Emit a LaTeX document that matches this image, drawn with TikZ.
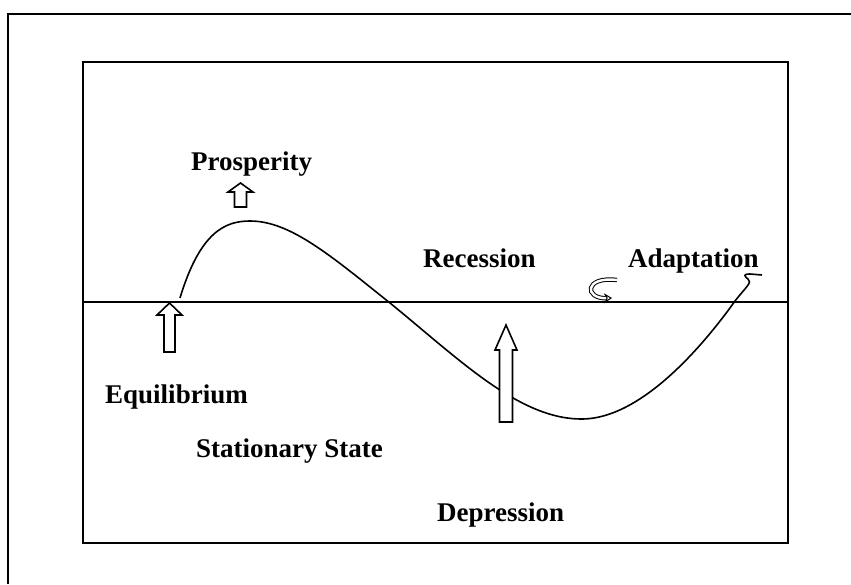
\documentclass[tikz,border=0pt]{standalone}
\usepackage{fontspec}
\setmainfont{Liberation Serif}
\usetikzlibrary{arrows.meta}
\begin{document}
\begin{tikzpicture}[x=1pt,y=-1pt,
  frame/.style={line width=1.8pt},
  lbl/.style={anchor=base west,inner sep=0pt,font=\fontsize{27}{29}\selectfont\bfseries},
  hollow/.style={line width=1.6pt,fill=white,line join=miter},
  wave/.style={line width=1.6pt}]
\useasboundingbox (0,0) rectangle (851,584);
% outer frame (only top and left visible)
\draw[frame] (851,14) -- (8,14) -- (8,584);
% inner box
\draw[frame] (83,62) rectangle (788,543);
% axis
\draw[frame] (83,302) -- (788,302);
% wave
\draw[wave] (180,298) .. controls (200,232) and (225,221) .. (250,221)
  .. controls (290,221) and (330,255) .. (390,303)
  .. controls (460,360) and (520,420) .. (583,419)
  .. controls (640,418) and (700,350) .. (735,301)
  .. controls (745,288) and (753,282) .. (748,279)
  .. controls (744,276) and (743,274) .. (750,274) -- (762,275);
% hollow arrows
\draw[hollow] (169.5,303) -- (182,315) -- (175,315) -- (175,352) -- (164,352) -- (164,315) -- (157,315) -- cycle;
\draw[hollow] (240.5,183) -- (253,192) -- (246.5,192) -- (246.5,207) -- (234.5,207) -- (234.5,192) -- (228,192) -- cycle;
\draw[hollow] (506,325) -- (517,350) -- (512.5,350) -- (512.5,422) -- (499.5,422) -- (499.5,350) -- (495,350) -- cycle;
% curly arrow
\draw[line width=1pt,double distance=2.4pt,-{Stealth[length=8pt,width=10pt,open]}] (617,280) .. controls (584,276) and (584,299) .. (612,298);
% labels
\node[lbl] (prosp) at (191,170) {Prosperity};
\node[lbl] (rec) at (423,267) {Recession};
\node[lbl] (adapt) at (628,267) {Adaptation};
\node[lbl] (equi) at (105,403) {Equilibrium};
\node[lbl] (stat) at (196,457) {Stationary State};
\node[lbl] (dep) at (437,521) {Depression};
\end{tikzpicture}
\end{document}
